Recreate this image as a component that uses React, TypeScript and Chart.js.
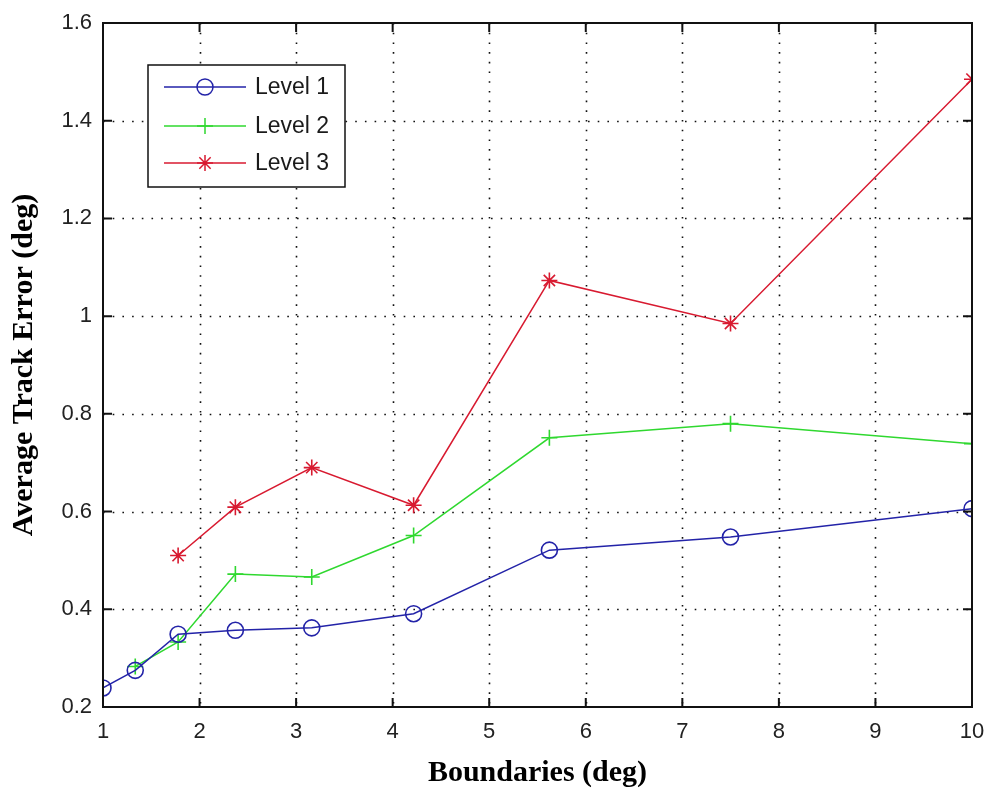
import React, { useEffect, useRef } from "react";
import { Chart, registerables } from "chart.js";

Chart.register(...registerables);

// ---- data ----
const boundaries = [1, 1.334, 1.778, 2.371, 3.162, 4.217, 5.623, 7.499, 10];
const level1 = [0.239, 0.275, 0.349, 0.357, 0.362, 0.391, 0.521, 0.548, 0.606];
const level2 = [null, 0.283, 0.333, 0.472, 0.466, 0.551, 0.751, 0.78, 0.739];
const level3 = [null, null, 0.51, 0.609, 0.69, 0.613, 1.073, 0.985, 1.485];
const seriesNames = ["Level 1", "Level 2", "Level 3"];
const xTicks = [1, 2, 3, 4, 5, 6, 7, 8, 9, 10];
const yTicks = [0.2, 0.4, 0.6, 0.8, 1.0, 1.2, 1.4, 1.6];
const yTickLabels = ["0.2", "0.4", "0.6", "0.8", "1", "1.2", "1.4", "1.6"];
const xTitle = "Boundaries (deg)";
const yTitle = "Average Track Error (deg)";

const COLORS = ["#2323a8", "#2fd82f", "#d81a30"];
const POINT_STYLES = ["circle", "cross", "star"];
const TICK_FONT = { family: "'Liberation Sans', Arial, sans-serif", size: 22 };
const TITLE_FONT = { family: "'Liberation Serif', 'Times New Roman', serif", size: 30, weight: "bold" as const };

function toPoints(ys: (number | null)[]) {
  const out: { x: number; y: number }[] = [];
  ys.forEach((y, i) => {
    if (y !== null) out.push({ x: boundaries[i], y });
  });
  return out;
}

function drawMarker(ctx: CanvasRenderingContext2D, style: string, x: number, y: number, r: number) {
  ctx.beginPath();
  if (style === "circle") {
    ctx.arc(x, y, r, 0, Math.PI * 2);
  } else if (style === "cross") {
    ctx.moveTo(x - r, y);
    ctx.lineTo(x + r, y);
    ctx.moveTo(x, y - r);
    ctx.lineTo(x, y + r);
  } else {
    const d = r * Math.SQRT1_2;
    ctx.moveTo(x - r, y);
    ctx.lineTo(x + r, y);
    ctx.moveTo(x, y - r);
    ctx.lineTo(x, y + r);
    ctx.moveTo(x - d, y - d);
    ctx.lineTo(x + d, y + d);
    ctx.moveTo(x - d, y + d);
    ctx.lineTo(x + d, y - d);
  }
  ctx.stroke();
}

const matlabFrame = {
  id: "matlabFrame",
  beforeDatasetsDraw(chart: any) {
    const { ctx, chartArea } = chart;
    const xs = chart.scales.x;
    const ys = chart.scales.y;
    ctx.save();
    ctx.strokeStyle = "#111";
    ctx.lineWidth = 1.6;
    ctx.setLineDash([1.6, 8.1]);
    xTicks.forEach((v) => {
      if (v === xTicks[0] || v === xTicks[xTicks.length - 1]) return;
      const px = Math.round(xs.getPixelForValue(v)) + 0.5;
      ctx.beginPath();
      ctx.moveTo(px, chartArea.top);
      ctx.lineTo(px, chartArea.bottom);
      ctx.stroke();
    });
    yTicks.forEach((v) => {
      if (v === yTicks[0] || v === yTicks[yTicks.length - 1]) return;
      const py = Math.round(ys.getPixelForValue(v)) + 0.5;
      ctx.beginPath();
      ctx.moveTo(chartArea.left, py);
      ctx.lineTo(chartArea.right, py);
      ctx.stroke();
    });
    ctx.restore();
  },
  afterDatasetsDraw(chart: any) {
    const { ctx, chartArea } = chart;
    const xs = chart.scales.x;
    const ys = chart.scales.y;
    const { left, right, top, bottom } = chartArea;
    ctx.save();
    ctx.setLineDash([]);
    ctx.strokeStyle = "#111";
    ctx.lineWidth = 2;
    ctx.strokeRect(left, top, right - left, bottom - top);
    const tl = 9;
    xTicks.forEach((v) => {
      const px = xs.getPixelForValue(v);
      ctx.beginPath();
      ctx.moveTo(px, bottom);
      ctx.lineTo(px, bottom - tl);
      ctx.moveTo(px, top);
      ctx.lineTo(px, top + tl);
      ctx.stroke();
    });
    yTicks.forEach((v) => {
      const py = ys.getPixelForValue(v);
      ctx.beginPath();
      ctx.moveTo(left, py);
      ctx.lineTo(left + tl, py);
      ctx.moveTo(right, py);
      ctx.lineTo(right - tl, py);
      ctx.stroke();
    });

    // legend
    const bx = left + 45;
    const by = top + 42;
    const bw = 197;
    const bh = 122;
    ctx.fillStyle = "#fff";
    ctx.fillRect(bx, by, bw, bh);
    ctx.lineWidth = 1.5;
    ctx.strokeStyle = "#111";
    ctx.strokeRect(bx, by, bw, bh);
    const rows = [by + 22, by + 61, by + 98];
    ctx.font = "23px 'Liberation Sans', Arial, sans-serif";
    ctx.textBaseline = "middle";
    ctx.textAlign = "left";
    chart.data.datasets.forEach((ds: any, i: number) => {
      const ry = rows[i];
      ctx.strokeStyle = ds.borderColor;
      ctx.lineWidth = 1.5;
      ctx.beginPath();
      ctx.moveTo(bx + 16, ry);
      ctx.lineTo(bx + 98, ry);
      ctx.stroke();
      drawMarker(ctx, POINT_STYLES[i], bx + 57, ry, 8);
      ctx.fillStyle = "#1a1a1a";
      ctx.fillText(ds.label, bx + 107, ry + 1);
    });
    ctx.restore();
  },
};

export default function App() {
  const ref = useRef<HTMLCanvasElement | null>(null);
  useEffect(() => {
    if (!ref.current) return;
    const datasets = [level1, level2, level3].map((ys, i) => ({
      label: seriesNames[i],
      data: toPoints(ys),
      borderColor: COLORS[i],
      backgroundColor: COLORS[i],
      pointBorderColor: COLORS[i],
      pointBackgroundColor: "rgba(0,0,0,0)",
      borderWidth: 1.5,
      pointStyle: POINT_STYLES[i],
      pointRadius: 8,
      pointBorderWidth: 1.6,
      tension: 0,
      fill: false,
    }));
    const chart = new Chart(ref.current, {
      type: "line",
      data: { datasets },
      plugins: [matlabFrame],
      options: {
        animation: false,
        responsive: false,
        maintainAspectRatio: false,
        layout: { padding: { left: 0, top: 23, right: 13, bottom: 0 } },
        plugins: { legend: { display: false }, tooltip: { enabled: false } },
        scales: {
          x: {
            type: "linear",
            min: 1,
            max: 10,
            afterFit: (s: any) => {
              s.height = 84;
              s.paddingLeft = 0;
              s.paddingRight = 0;
            },
            afterBuildTicks: (s: any) => {
              s.ticks = xTicks.map((v) => ({ value: v }));
            },
            grid: { display: false, drawTicks: false },
            border: { display: false },
            ticks: {
              font: TICK_FONT,
              color: "#222",
              padding: 12,
              maxRotation: 0,
              autoSkip: false,
              callback: (v: any) => String(v),
            },
            title: {
              display: true,
              text: xTitle,
              font: TITLE_FONT,
              color: "#000",
              padding: { top: 0, bottom: 0 },
            },
          },
          y: {
            type: "linear",
            min: 0.2,
            max: 1.6,
            afterFit: (s: any) => {
              s.width = 103;
              s.paddingTop = 0;
              s.paddingBottom = 0;
            },
            afterBuildTicks: (s: any) => {
              s.ticks = yTicks.map((v) => ({ value: v }));
            },
            grid: { display: false, drawTicks: false },
            border: { display: false },
            ticks: {
              font: TICK_FONT,
              color: "#222",
              padding: 11,
              autoSkip: false,
              callback: (v: any) => {
                const idx = yTicks.findIndex((t) => Math.abs(t - v) < 1e-6);
                return idx >= 0 ? yTickLabels[idx] : "";
              },
            },
            title: {
              display: true,
              text: yTitle,
              font: TITLE_FONT,
              color: "#000",
              padding: { top: 6, bottom: 0 },
            },
          },
        },
      },
    });
    return () => chart.destroy();
  }, []);
  return (
    <div style={{ position: "absolute", left: 0, top: 0, width: 985, height: 791, background: "#fff" }}>
      <canvas ref={ref} width={985} height={791} style={{ width: 985, height: 791 }} />
    </div>
  );
}
